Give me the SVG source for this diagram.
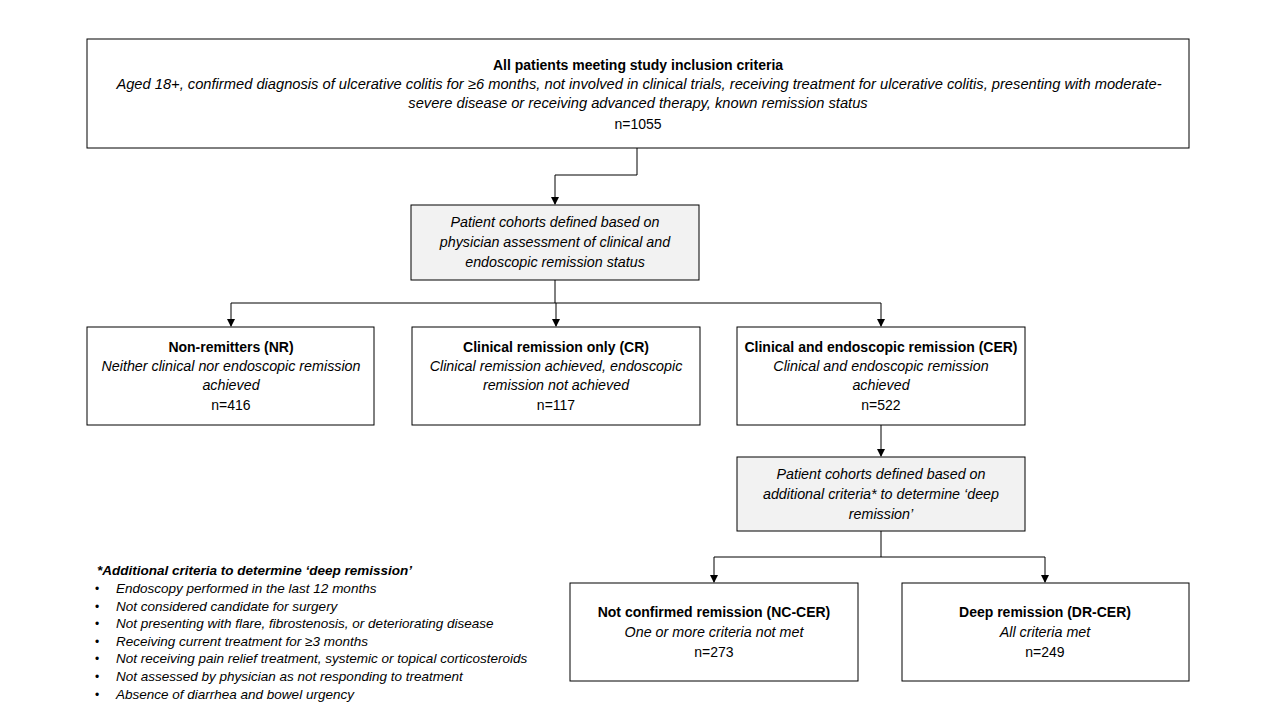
<svg xmlns="http://www.w3.org/2000/svg" width="1280" height="720" viewBox="0 0 1280 720">
<defs>
<marker id="arr" markerWidth="8" markerHeight="8" refX="7" refY="4" orient="auto" markerUnits="userSpaceOnUse">
<path d="M0,0 L8,4 L0,8 Z" fill="#000"/>
</marker>
<style>
.box{fill:#fff;stroke:#000;stroke-width:1}
.gray{fill:#f2f2f2;stroke:#000;stroke-width:1}
text{font-family:"Liberation Sans",Arial,sans-serif;fill:#000;text-anchor:middle}
.t{font-size:14px;font-weight:bold}
.i{font-size:14.3px;font-style:italic}
.n{font-size:14px}
.ti{font-size:14.7px;font-style:italic}
.fn{font-size:13.5px;font-style:italic;text-anchor:start}
.fb{font-size:13.5px;font-style:italic;font-weight:bold;text-anchor:start}
.bul{font-size:12px;text-anchor:start}
.c{fill:none;stroke:#000;stroke-width:1}
</style>
</defs>
<rect width="1280" height="720" fill="#fff"/>
<g id="connectors">
<path class="c" d="M637,148 V175 H555 V204" marker-end="url(#arr)"/>
<path class="c" d="M555,280 V303"/>
<path class="c" d="M231,303 H881"/>
<path class="c" d="M231,303 V326" marker-end="url(#arr)"/>
<path class="c" d="M556,303 V326" marker-end="url(#arr)"/>
<path class="c" d="M881,303 V326" marker-end="url(#arr)"/>
<path class="c" d="M881,425 V456" marker-end="url(#arr)"/>
<path class="c" d="M881,531 V557"/>
<path class="c" d="M714,557 H1045"/>
<path class="c" d="M714,557 V582" marker-end="url(#arr)"/>
<path class="c" d="M1045,557 V582" marker-end="url(#arr)"/>
</g>
<g id="all-patients">
<rect class="box" x="87" y="39" width="1102" height="109"/>
<text class="t" x="638" y="70">All patients meeting study inclusion criteria</text>
<text class="ti" x="639" y="89">Aged 18+, confirmed diagnosis of ulcerative colitis for ≥6 months, not involved in clinical trials, receiving treatment for ulcerative colitis, presenting with moderate-</text>
<text class="ti" x="638" y="108">severe disease or receiving advanced therapy, known remission status</text>
<text class="n" x="638" y="129">n=1055</text>
</g>
<g id="cohorts-physician">
<rect class="gray" x="411" y="205" width="288" height="75"/>
<text class="i" x="555" y="227">Patient cohorts defined based on</text>
<text class="i" x="555" y="247">physician assessment of clinical and</text>
<text class="i" x="555" y="267">endoscopic remission status</text>
</g>
<g id="nr">
<rect class="box" x="87" y="327" width="287" height="98"/>
<text class="t" x="231" y="352">Non-remitters (NR)</text>
<text class="i" x="231" y="371">Neither clinical nor endoscopic remission</text>
<text class="i" x="231" y="390">achieved</text>
<text class="n" x="231" y="410">n=416</text>
</g>
<g id="cr">
<rect class="box" x="412" y="327" width="288" height="98"/>
<text class="t" x="556" y="352">Clinical remission only (CR)</text>
<text class="i" x="556" y="371">Clinical remission achieved, endoscopic</text>
<text class="i" x="556" y="390">remission not achieved</text>
<text class="n" x="556" y="410">n=117</text>
</g>
<g id="cer">
<rect class="box" x="737" y="327" width="288" height="98"/>
<text class="t" x="881" y="352">Clinical and endoscopic remission (CER)</text>
<text class="i" x="881" y="371">Clinical and endoscopic remission</text>
<text class="i" x="881" y="390">achieved</text>
<text class="n" x="881" y="410">n=522</text>
</g>
<g id="cohorts-additional">
<rect class="gray" x="737" y="457" width="288" height="74"/>
<text class="i" x="881" y="479">Patient cohorts defined based on</text>
<text class="i" x="881" y="499">additional criteria* to determine ‘deep</text>
<text class="i" x="881" y="519">remission’</text>
</g>
<g id="nc-cer">
<rect class="box" x="570" y="583" width="288" height="98"/>
<text class="t" x="714" y="617">Not confirmed remission (NC-CER)</text>
<text class="i" x="714" y="637">One or more criteria not met</text>
<text class="n" x="714" y="657">n=273</text>
</g>
<g id="dr-cer">
<rect class="box" x="902" y="583" width="287" height="98"/>
<text class="t" x="1045" y="617">Deep remission (DR-CER)</text>
<text class="i" x="1045" y="637">All criteria met</text>
<text class="n" x="1045" y="657">n=249</text>
</g>
<g id="footnote">
<text class="fb" x="97" y="575">*Additional criteria to determine ‘deep remission’</text>
<text class="bul" x="95" y="593">•</text><text class="fn" x="116" y="593">Endoscopy performed in the last 12 months</text>
<text class="bul" x="95" y="611">•</text><text class="fn" x="116" y="611">Not considered candidate for surgery</text>
<text class="bul" x="95" y="628">•</text><text class="fn" x="116" y="628">Not presenting with flare, fibrostenosis, or deteriorating disease</text>
<text class="bul" x="95" y="646">•</text><text class="fn" x="116" y="646">Receiving current treatment for ≥3 months</text>
<text class="bul" x="95" y="663">•</text><text class="fn" x="116" y="663">Not receiving pain relief treatment, systemic or topical corticosteroids</text>
<text class="bul" x="95" y="681">•</text><text class="fn" x="116" y="681">Not assessed by physician as not responding to treatment</text>
<text class="bul" x="95" y="699">•</text><text class="fn" x="116" y="699">Absence of diarrhea and bowel urgency</text>
</g>
</svg>
